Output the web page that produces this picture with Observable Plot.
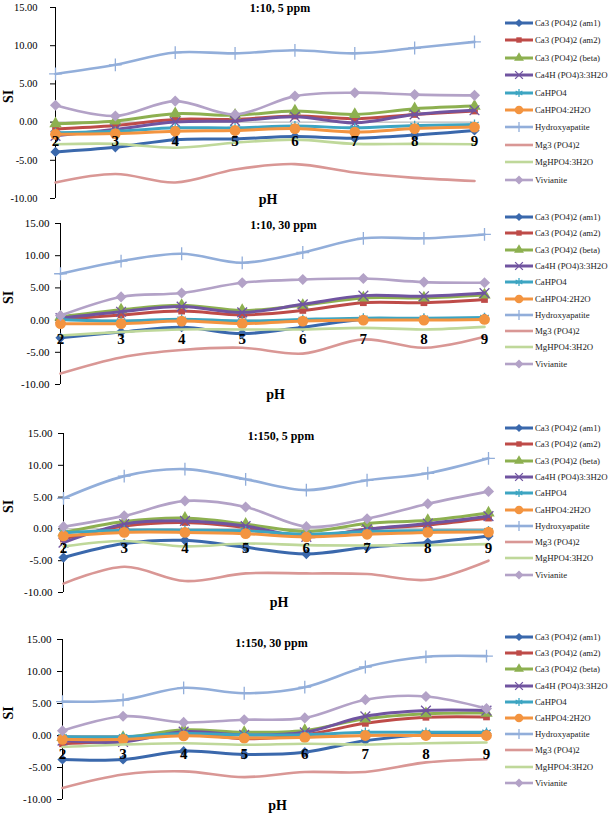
<!DOCTYPE html>
<html><head><meta charset="utf-8">
<script src="https://cdn.jsdelivr.net/npm/d3@7"></script>
<script src="https://cdn.jsdelivr.net/npm/@observablehq/plot@0.6"></script>
<style>
body{margin:0;background:#fff;font-family:"Liberation Serif","Times New Roman",serif;}
#root{position:relative;width:610px;height:815px;overflow:hidden;background:#fff;}
.panel{position:absolute;left:0;}
.legend{position:absolute;left:505px;font-size:8.8px;color:#222;}
.item{position:absolute;left:0;white-space:nowrap;display:flex;align-items:center;height:12px;margin-top:-6px;}
.item svg{margin-right:2px;}
</style></head><body><div id="root"></div>
<script>
// ---------- data ----------
const pH = [2, 3, 4, 5, 6, 7, 8, 9];
const minerals = ["Ca3 (PO4)2 (am1)", "Ca3 (PO4)2 (am2)", "Ca3 (PO4)2 (beta)", "Ca4H (PO4)3:3H2O", "CaHPO4",
  "CaHPO4:2H2O", "Hydroxyapatite", "Mg3 (PO4)2", "MgHPO4:3H2O", "Vivianite"];
const colors = ["#3A68AC", "#BE4B48", "#8DB050", "#7054A0", "#3DA5C2", "#F39440", "#92AEDA", "#D99795", "#BFD89A", "#B3A2C7"];
const symbols = ["diamond2", "square", "triangle", "times", "asterisk", "circle", "plus", null, null, "diamond2"];
const titles = ["1:10, 5 ppm", "1:10, 30 ppm", "1:150, 5 ppm", "1:150, 30 ppm"];
const yTicks = [-10, -5, 0, 5, 10, 15];

// SI values, one row per mineral (same order as minerals), one column per pH
const si_1_10_5ppm = [
  [-3.9, -3.3, -2.3, -2.2, -1.9, -2.1, -1.7, -1.1],
  [-0.9, -0.45, 0.35, 0.35, 0.8, 0.45, 1.0, 1.45],
  [-0.2, 0.15, 1.1, 0.9, 1.45, 1.0, 1.75, 2.1],
  [-1.8, -0.95, 0.0, 0.15, 0.7, -0.1, 1.0, 1.55],
  [-1.4, -1.2, -0.75, -0.75, -0.5, -0.75, -0.45, -0.3],
  [-1.6, -1.5, -1.2, -1.1, -0.85, -1.3, -0.85, -0.65],
  [6.3, 7.5, 9.1, 9.0, 9.4, 9.0, 9.7, 10.5],
  [-7.9, -6.8, -7.9, -6.2, -5.5, -6.6, -7.3, -7.7],
  [-2.9, -2.85, -3.35, -2.7, -2.3, -2.85, -2.85, -2.9],
  [2.2, 0.8, 2.75, 1.0, 3.4, 3.85, 3.6, 3.5]
];
const si_1_10_30ppm = [
  [-2.75, -1.85, -1.1, -2.1, -1.1, 0.1, 0.1, 0.3],
  [0.1, 0.8, 1.4, 0.8, 1.5, 2.7, 2.7, 3.2],
  [0.5, 1.6, 2.3, 1.5, 2.3, 3.45, 3.45, 3.9],
  [0.3, 1.3, 2.1, 1.2, 2.45, 3.8, 3.7, 4.2],
  [0.1, -0.15, 0.15, -0.15, 0.1, 0.3, 0.3, 0.4],
  [-0.55, -0.55, -0.15, -0.55, -0.15, 0.0, 0.0, 0.1],
  [7.2, 9.15, 10.3, 8.9, 10.5, 12.7, 12.7, 13.3],
  [-8.3, -5.8, -4.65, -4.3, -5.2, -3.0, -4.3, -2.6],
  [-2.4, -1.85, -1.45, -1.45, -1.45, -1.2, -1.45, -1.05],
  [0.7, 3.6, 4.2, 5.8, 6.3, 6.45, 5.9, 5.8]
];
const si_1_150_5ppm = [
  [-4.5, -2.3, -1.8, -2.9, -3.95, -2.9, -2.15, -1.1],
  [-1.6, 0.45, 1.0, 0.2, -1.25, -0.05, 0.6, 1.7],
  [-0.6, 1.15, 1.7, 0.75, -0.4, 0.85, 1.35, 2.5],
  [-2.15, 0.75, 1.25, 0.45, -1.25, -0.05, 0.85, 2.0],
  [-0.6, -0.2, -0.2, -0.3, -0.85, -0.4, -0.3, -0.3],
  [-1.1, -0.55, -0.55, -0.75, -1.25, -0.85, -0.55, -0.5],
  [4.8, 8.3, 9.4, 7.8, 6.1, 7.65, 8.75, 11.1],
  [-8.6, -5.95, -8.2, -7.0, -7.0, -7.1, -8.0, -5.0],
  [-2.75, -1.9, -2.75, -2.3, -2.55, -2.6, -2.55, -2.4],
  [0.35, 2.05, 4.4, 3.45, 0.35, 1.6, 3.95, 5.9]
];
const si_1_150_30ppm = [
  [-3.75, -3.75, -2.45, -2.95, -2.6, -0.8, 0.15, 0.3],
  [-1.3, -0.8, 0.3, -0.5, 0.1, 1.9, 2.85, 2.9],
  [-0.3, -0.3, 0.9, 0.5, 0.8, 2.6, 3.4, 3.5],
  [-0.8, -1.0, 0.6, 0.1, 0.5, 3.0, 3.9, 3.9],
  [-0.2, -0.2, 0.3, 0.1, 0.1, 0.5, 0.5, 0.5],
  [-0.6, -0.6, -0.05, -0.4, -0.3, 0.0, 0.0, 0.0],
  [5.3, 5.55, 7.45, 6.6, 7.55, 10.7, 12.3, 12.4],
  [-8.2, -6.1, -5.6, -6.5, -5.7, -5.7, -4.2, -3.7],
  [-1.8, -1.4, -1.2, -1.45, -1.3, -1.4, -1.2, -1.1],
  [0.75, 3.0, 2.05, 2.45, 2.75, 5.6, 6.1, 4.2]
];
const panelData = [si_1_10_5ppm, si_1_10_30ppm, si_1_150_5ppm, si_1_150_30ppm];

// ---------- layout ----------
const layouts = [
  {top: 0,   height: 213, mt: 7,  mb: 15, ml: 55, mr: 26, pad: 13, fs: 10.5, tdx: 15, tdy: 1, phdy: 1, legTop: 23, legStep: 17.4},
  {top: 213, height: 189, mt: 10, mb: 18, ml: 60, mr: 16, pad: 6,  fs: 11, tdx: 11, tdy: 2, phdy: 10, legTop: 217, legStep: 16.3},
  {top: 402, height: 208, mt: 31, mb: 18, ml: 63, mr: 12, pad: 6,  fs: 11, tdx: 5,  tdy: 3, phdy: 10, legTop: 428, legStep: 16.3},
  {top: 610, height: 205, mt: 29, mb: 16, ml: 62, mr: 14, pad: 6,  fs: 11, tdx: -3, tdy: 4, phdy: 6, legTop: 637, legStep: 16.2}
];

const root = document.getElementById("root");
const font = "Liberation Serif, Times New Roman, serif";

function dotOpts(i) {
  const s = symbols[i];
  const strokeSym = (s === "times" || s === "asterisk" || s === "plus");
  const r = {diamond2: i === 9 ? 5 : 4.6, square: 3.8, triangle: 4.6, times: 4.5, asterisk: 4.6, circle: 5.4, plus: 4.2}[s];
  return strokeSym
    ? {x: "pH", y: "si", symbol: s, r, stroke: colors[i], strokeWidth: 1.3, fill: "none"}
    : {x: "pH", y: "si", symbol: s, r, fill: colors[i], stroke: "none"};
}

panelData.forEach((data, k) => {
  const L = layouts[k];
  const marks = [
    Plot.ruleY([0], {stroke: "#a8a8a8", strokeWidth: 1}),
    Plot.axisY({ticks: yTicks, tickSize: 5, tickPadding: L.pad, tickFormat: d => d.toFixed(2), fontSize: L.fs, label: null, stroke: "#000"}),
    Plot.ruleX([2], {stroke: "#000", strokeWidth: 1})
  ];
  minerals.forEach((name, i) => {
    const rows = pH.map((p, j) => ({pH: p, si: data[i][j], mineral: name}));
    const light = i >= 6;
    marks.push(Plot.line(rows, {x: "pH", y: "si", stroke: colors[i], strokeWidth: light ? 2.6 : 3, curve: "cardinal"}));
    if (symbols[i]) marks.push(Plot.dot(rows, dotOpts(i)));
  });
  marks.push(
    Plot.text(pH, {x: d => d, y: d => 0, text: d => String(d), dy: 19, fontSize: 15, fontWeight: "bold", fill: "#000"}),
    Plot.text([titles[k]], {frameAnchor: "top", dx: L.tdx, dy: L.tdy, fontSize: 12, fontWeight: "bold", fill: "#000", lineAnchor: "middle"}),
    Plot.text(["SI"], {frameAnchor: "left", dx: 8 - L.ml, rotate: -90, fontSize: 14, fontWeight: "bold", fill: "#000"}),
    Plot.text(["pH"], {frameAnchor: "bottom", dx: 3, dy: L.phdy, fontSize: 14, fontWeight: "bold", fill: "#000", lineAnchor: "middle"})
  );
  const svg = Plot.plot({
    width: 500, height: L.height,
    marginTop: L.mt, marginBottom: L.mb, marginLeft: L.ml, marginRight: L.mr,
    x: {domain: [2, 9], axis: null},
    y: {domain: [-10, 15]},
    style: {fontFamily: font, background: "transparent", overflow: "visible", color: "#000"},
    marks
  });
  const div = document.createElement("div");
  div.className = "panel";
  div.style.top = L.top + "px";
  div.appendChild(svg);
  root.appendChild(div);

  // legend
  const leg = document.createElement("div");
  leg.className = "legend";
  leg.style.top = "0px";
  minerals.forEach((name, i) => {
    const item = document.createElement("div");
    item.className = "item";
    item.style.top = (L.legTop + i * L.legStep) + "px";
    const ns = "http://www.w3.org/2000/svg";
    const s = document.createElementNS(ns, "svg");
    s.setAttribute("width", 28); s.setAttribute("height", 12);
    const ln = document.createElementNS(ns, "line");
    ln.setAttribute("x1", 0); ln.setAttribute("x2", 28); ln.setAttribute("y1", 6); ln.setAttribute("y2", 6);
    ln.setAttribute("stroke", colors[i]); ln.setAttribute("stroke-width", i >= 6 ? 2.6 : 3);
    s.appendChild(ln);
    if (symbols[i]) {
      const o = dotOpts(i);
      const symMap = {diamond2: d3.symbolDiamond2, square: d3.symbolSquare, triangle: d3.symbolTriangle,
        times: d3.symbolTimes, asterisk: d3.symbolAsterisk, circle: d3.symbolCircle, plus: d3.symbolPlus};
      const p = document.createElementNS(ns, "path");
      p.setAttribute("d", d3.symbol(symMap[symbols[i]], Math.PI * (o.r * 0.8) ** 2)());
      p.setAttribute("transform", "translate(14,6)");
      p.setAttribute("fill", o.fill); p.setAttribute("stroke", o.stroke);
      if (o.strokeWidth) p.setAttribute("stroke-width", o.strokeWidth);
      s.appendChild(p);
    }
    item.appendChild(s);
    const t = document.createElement("span");
    t.textContent = name;
    item.appendChild(t);
    leg.appendChild(item);
  });
  root.appendChild(leg);
});
</script></body></html>
